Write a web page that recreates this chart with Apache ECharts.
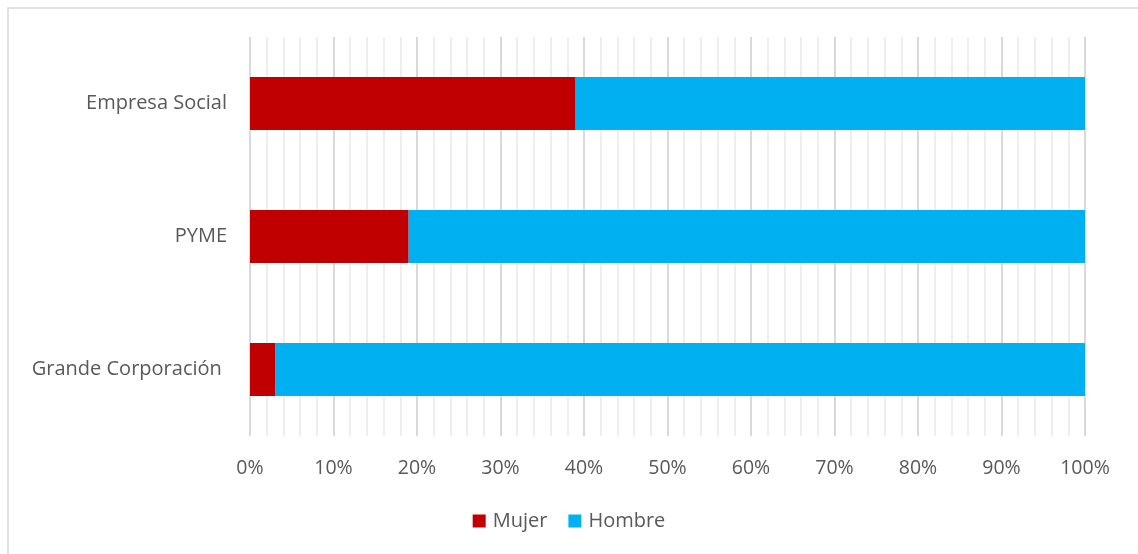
<!DOCTYPE html>
<html>
<head>
<meta charset="utf-8">
<script src="https://cdn.jsdelivr.net/npm/echarts@6/dist/echarts.min.js"></script>
<style>
  html, body { margin: 0; padding: 0; background: #fff; }
  #chart { width: 1138px; height: 554px; }
</style>
</head>
<body>
<div id="chart"></div>
<script>
// Share of women and men by company type (percent)
const categories = ['Grande Corporación ', 'PYME', 'Empresa Social'];
const mujer = [3, 19, 39];
const hombre = [97, 81, 61];
const seriesNames = ['Mujer', 'Hombre'];

const fontFamily = '"Open Sans", "Liberation Sans", sans-serif';
const textColor = '#595959';

const chart = echarts.init(document.getElementById('chart'), null, { renderer: 'canvas' });

chart.setOption({
  animation: false,
  backgroundColor: '#ffffff',
  graphic: [{
    type: 'rect',
    shape: { x: 8, y: 8, width: 1140, height: 560 },
    style: { fill: 'none', stroke: '#d9d9d9', lineWidth: 1.5 },
    silent: true
  }],
  grid: { left: 250, right: 53, top: 37, bottom: 118 },
  legend: {
    data: seriesNames,
    bottom: 18,
    left: 'center',
    itemWidth: 13,
    itemHeight: 13,
    itemGap: 21,
    icon: 'rect',
    textStyle: { fontFamily: fontFamily, fontSize: 20, color: textColor, padding: [0, 0, 0, 2] }
  },
  xAxis: {
    type: 'value',
    min: 0,
    max: 100,
    interval: 10,
    axisLine: { show: false },
    axisTick: { show: false },
    axisLabel: {
      formatter: '{value}%',
      fontFamily: fontFamily,
      fontSize: 19.5,
      color: textColor,
      margin: 22
    },
    splitLine: { show: true, lineStyle: { color: '#d9d9d9', width: 2 } },
    minorTick: { show: false, splitNumber: 5 },
    minorSplitLine: { show: true, lineStyle: { color: '#eeeeee', width: 2 } }
  },
  yAxis: {
    type: 'category',
    data: categories,
    axisLine: { show: false },
    axisTick: { show: false },
    axisLabel: {
      fontFamily: fontFamily,
      fontSize: 20,
      color: textColor,
      margin: 23
    }
  },
  series: [
    {
      name: seriesNames[0],
      type: 'bar',
      stack: 'total',
      data: mujer,
      barWidth: '40%',
      itemStyle: { color: '#c00000' }
    },
    {
      name: seriesNames[1],
      type: 'bar',
      stack: 'total',
      data: hombre,
      barWidth: '40%',
      itemStyle: { color: '#00b0f0' }
    }
  ]
});
</script>
</body>
</html>
